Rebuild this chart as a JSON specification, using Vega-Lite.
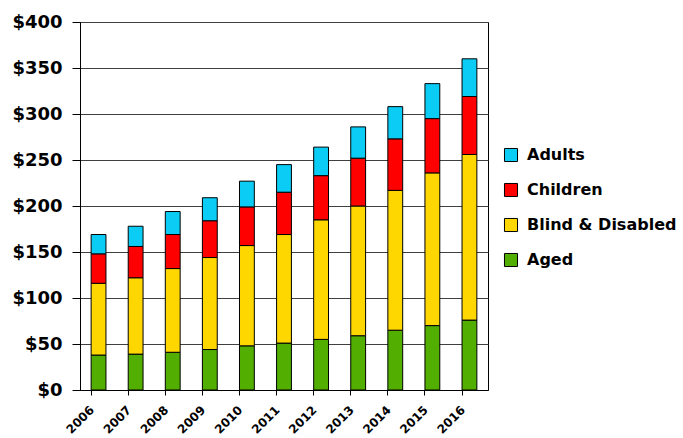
{
  "$schema": "https://vega.github.io/schema/vega-lite/v6.json",
  "description": "Stacked bars of spending by eligibility group, 2006-2016.",
  "width": 408,
  "height": 368,
  "autosize": "none",
  "padding": {"left": 80, "top": 22, "right": 195, "bottom": 48},
  "config": {
    "font": "DejaVu Sans",
    "view": {"stroke": "black", "strokeWidth": 1}
  },
  "data": {
    "values": [
      {"Year": "2006", "Category": "Aged", "Rank": 1, "Amount": 38},
      {"Year": "2006", "Category": "Blind & Disabled", "Rank": 2, "Amount": 78},
      {"Year": "2006", "Category": "Children", "Rank": 3, "Amount": 32},
      {"Year": "2006", "Category": "Adults", "Rank": 4, "Amount": 21},
      {"Year": "2007", "Category": "Aged", "Rank": 1, "Amount": 39},
      {"Year": "2007", "Category": "Blind & Disabled", "Rank": 2, "Amount": 83},
      {"Year": "2007", "Category": "Children", "Rank": 3, "Amount": 34},
      {"Year": "2007", "Category": "Adults", "Rank": 4, "Amount": 22},
      {"Year": "2008", "Category": "Aged", "Rank": 1, "Amount": 41},
      {"Year": "2008", "Category": "Blind & Disabled", "Rank": 2, "Amount": 91},
      {"Year": "2008", "Category": "Children", "Rank": 3, "Amount": 37},
      {"Year": "2008", "Category": "Adults", "Rank": 4, "Amount": 25},
      {"Year": "2009", "Category": "Aged", "Rank": 1, "Amount": 44},
      {"Year": "2009", "Category": "Blind & Disabled", "Rank": 2, "Amount": 100},
      {"Year": "2009", "Category": "Children", "Rank": 3, "Amount": 40},
      {"Year": "2009", "Category": "Adults", "Rank": 4, "Amount": 25},
      {"Year": "2010", "Category": "Aged", "Rank": 1, "Amount": 48},
      {"Year": "2010", "Category": "Blind & Disabled", "Rank": 2, "Amount": 109},
      {"Year": "2010", "Category": "Children", "Rank": 3, "Amount": 42},
      {"Year": "2010", "Category": "Adults", "Rank": 4, "Amount": 28},
      {"Year": "2011", "Category": "Aged", "Rank": 1, "Amount": 51},
      {"Year": "2011", "Category": "Blind & Disabled", "Rank": 2, "Amount": 118},
      {"Year": "2011", "Category": "Children", "Rank": 3, "Amount": 46},
      {"Year": "2011", "Category": "Adults", "Rank": 4, "Amount": 30},
      {"Year": "2012", "Category": "Aged", "Rank": 1, "Amount": 55},
      {"Year": "2012", "Category": "Blind & Disabled", "Rank": 2, "Amount": 130},
      {"Year": "2012", "Category": "Children", "Rank": 3, "Amount": 48},
      {"Year": "2012", "Category": "Adults", "Rank": 4, "Amount": 31},
      {"Year": "2013", "Category": "Aged", "Rank": 1, "Amount": 59},
      {"Year": "2013", "Category": "Blind & Disabled", "Rank": 2, "Amount": 141},
      {"Year": "2013", "Category": "Children", "Rank": 3, "Amount": 52},
      {"Year": "2013", "Category": "Adults", "Rank": 4, "Amount": 34},
      {"Year": "2014", "Category": "Aged", "Rank": 1, "Amount": 65},
      {"Year": "2014", "Category": "Blind & Disabled", "Rank": 2, "Amount": 152},
      {"Year": "2014", "Category": "Children", "Rank": 3, "Amount": 56},
      {"Year": "2014", "Category": "Adults", "Rank": 4, "Amount": 35},
      {"Year": "2015", "Category": "Aged", "Rank": 1, "Amount": 70},
      {"Year": "2015", "Category": "Blind & Disabled", "Rank": 2, "Amount": 166},
      {"Year": "2015", "Category": "Children", "Rank": 3, "Amount": 59},
      {"Year": "2015", "Category": "Adults", "Rank": 4, "Amount": 38},
      {"Year": "2016", "Category": "Aged", "Rank": 1, "Amount": 76},
      {"Year": "2016", "Category": "Blind & Disabled", "Rank": 2, "Amount": 180},
      {"Year": "2016", "Category": "Children", "Rank": 3, "Amount": 63},
      {"Year": "2016", "Category": "Adults", "Rank": 4, "Amount": 41}
    ]
  },
  "mark": {"type": "bar", "stroke": "black", "strokeWidth": 1},
  "encoding": {
    "x": {
      "field": "Year",
      "type": "ordinal",
      "scale": {"paddingInner": 0.6, "paddingOuter": 0.3},
      "axis": {
        "title": null,
        "labelAngle": -45,
        "bandPosition": 0,
        "labelOffset": -10,
        "labelPadding": 9,
        "labelFontSize": 12,
        "labelFontWeight": "bold",
        "labelColor": "black",
        "tickColor": "black",
        "tickSize": 5,
        "domainColor": "black",
        "grid": false
      }
    },
    "y": {
      "field": "Amount",
      "type": "quantitative",
      "stack": "zero",
      "scale": {"domain": [0, 400]},
      "axis": {
        "title": null,
        "values": [0, 50, 100, 150, 200, 250, 300, 350, 400],
        "format": "$.0f",
        "grid": true,
        "gridColor": "#404040",
        "gridOpacity": 1,
        "labelFontSize": 18,
        "labelFontWeight": "bold",
        "labelColor": "black",
        "labelPadding": 10,
        "tickSize": 8,
        "tickColor": "black",
        "domainColor": "black"
      }
    },
    "color": {
      "field": "Category",
      "type": "nominal",
      "scale": {
        "domain": ["Adults", "Children", "Blind & Disabled", "Aged"],
        "range": ["#0ACCF5", "#FF0000", "#FFD700", "#52AE00"]
      },
      "legend": {
        "title": null,
        "orient": "none",
        "legendX": 423,
        "legendY": 125,
        "symbolType": "square",
        "symbolSize": 170,
        "symbolStrokeColor": "black",
        "symbolStrokeWidth": 1,
        "symbolOpacity": 1,
        "labelFontSize": 16,
        "labelFontWeight": "bold",
        "labelColor": "black",
        "labelLimit": 220,
        "labelOffset": 8,
        "rowPadding": 17
      }
    },
    "order": {"field": "Rank", "type": "quantitative"}
  }
}
